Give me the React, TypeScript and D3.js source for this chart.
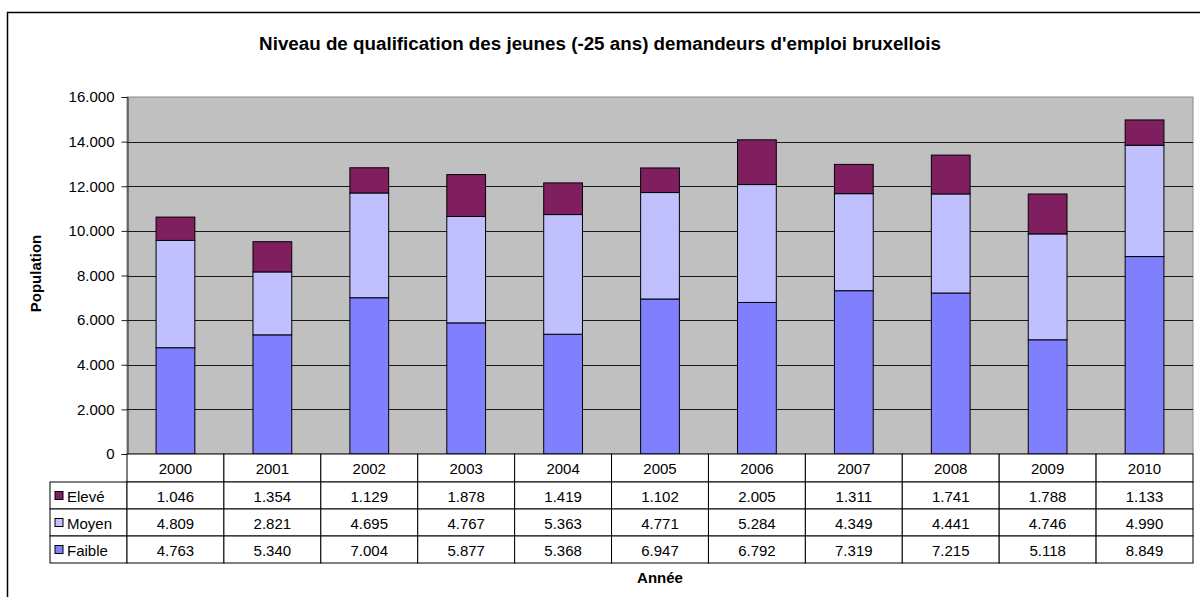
import * as d3 from "d3";
import { useEffect, useRef } from "react";

const years = ["2000", "2001", "2002", "2003", "2004", "2005", "2006", "2007", "2008", "2009", "2010"];
const faible = [4763, 5340, 7004, 5877, 5368, 6947, 6792, 7319, 7215, 5118, 8849];
const moyen = [4809, 2821, 4695, 4767, 5363, 4771, 5284, 4349, 4441, 4746, 4990];
const eleve = [1046, 1354, 1129, 1878, 1419, 1102, 2005, 1311, 1741, 1788, 1133];
const yTicks = [0, 2000, 4000, 6000, 8000, 10000, 12000, 14000, 16000];

const seriesNames = ["Faible", "Moyen", "Elevé"];
const seriesColors = ["#8080FF", "#C0C0FF", "#801F60"];

function App() {
  const ref = useRef<SVGSVGElement>(null);

  useEffect(() => {
    const W = 1200;
    const H = 597;
    const left = 127;
    const right = 1193;
    const top = 97;
    const bottom = 454;
    const rowH = 27;
    const font = "Arial, 'Liberation Sans', sans-serif";
    const fs = 15;

    const svg = d3.select(ref.current);
    svg.selectAll("*").remove();
    svg.attr("width", W).attr("height", H);

    const fmt = d3
      .formatLocale({ decimal: ",", thousands: ".", grouping: [3], currency: ["", "€"] })
      .format(",d");

    // outer frame
    svg
      .append("rect")
      .attr("x", 7.5)
      .attr("y", 12.5)
      .attr("width", 1200)
      .attr("height", 600)
      .attr("fill", "#fff")
      .attr("stroke", "#000")
      .attr("stroke-width", 1.5);

    // title
    svg
      .append("text")
      .attr("x", 600)
      .attr("y", 50)
      .attr("text-anchor", "middle")
      .attr("font-family", font)
      .attr("font-weight", "bold")
      .attr("font-size", 18.8)
      .text("Niveau de qualification des jeunes (-25 ans) demandeurs d'emploi bruxellois");

    const x = d3.scaleBand().domain(years).range([left, right]).padding(0);
    const y = d3.scaleLinear().domain([0, 16000]).range([bottom, top]);
    const barW = x.bandwidth() * 0.4;

    // plot background
    svg
      .append("rect")
      .attr("x", left)
      .attr("y", top)
      .attr("width", right - left)
      .attr("height", bottom - top)
      .attr("fill", "#C0C0C0")
      .attr("stroke", "#8a8a8a")
      .attr("stroke-width", 1);

    // grid lines
    svg
      .append("g")
      .selectAll("line")
      .data(yTicks.filter((t) => t > 0 && t < 16000))
      .join("line")
      .attr("x1", left)
      .attr("x2", right)
      .attr("y1", (d) => Math.round(y(d)) + 0.5)
      .attr("y2", (d) => Math.round(y(d)) + 0.5)
      .attr("stroke", "#1a1a1a")
      .attr("stroke-width", 1);

    // stacked bars
    const rows = years.map((yr, i) => ({ year: yr, Faible: faible[i], Moyen: moyen[i], "Elevé": eleve[i] }));
    const stack = d3.stack<any>().keys(seriesNames)(rows);

    stack.forEach((layer, si) => {
      svg
        .append("g")
        .selectAll("rect")
        .data(layer)
        .join("rect")
        .attr("x", (d) => x(d.data.year)! + (x.bandwidth() - barW) / 2)
        .attr("y", (d) => y(d[1]))
        .attr("width", barW)
        .attr("height", (d) => y(d[0]) - y(d[1]))
        .attr("fill", seriesColors[si])
        .attr("stroke", "#000")
        .attr("stroke-width", 1);
    });

    // y axis
    const yAxis = svg
      .append("g")
      .attr("transform", `translate(${left + 0.5},0)`)
      .call(
        d3
          .axisLeft(y)
          .tickValues(yTicks)
          .tickSize(6)
          .tickPadding(7)
          .tickFormat((d) => fmt(d as number))
      );
    yAxis.select(".domain").attr("stroke", "#222");
    yAxis.selectAll(".tick line").attr("stroke", "#222");
    yAxis
      .selectAll(".tick text")
      .attr("font-family", font)
      .attr("font-size", fs)
      .attr("fill", "#000");

    // y title
    svg
      .append("text")
      .attr("transform", `translate(41,${(top + bottom) / 2 - 2}) rotate(-90)`)
      .attr("text-anchor", "middle")
      .attr("font-family", font)
      .attr("font-weight", "bold")
      .attr("font-size", fs)
      .text("Population");

    // data table
    const table = svg.append("g");
    const legendLeft = 50;

    // header row (years)
    table
      .append("g")
      .selectAll("rect")
      .data(years)
      .join("rect")
      .attr("x", (d) => x(d)!)
      .attr("y", bottom)
      .attr("width", x.bandwidth())
      .attr("height", 28)
      .attr("fill", "#fff")
      .attr("stroke", "#000")
      .attr("stroke-width", 1);
    table
      .append("g")
      .selectAll("text")
      .data(years)
      .join("text")
      .attr("x", (d) => x(d)! + x.bandwidth() / 2)
      .attr("y", bottom + 20)
      .attr("text-anchor", "middle")
      .attr("font-family", font)
      .attr("font-size", fs)
      .text((d) => d);

    const tableRows = [
      { name: "Elevé", values: eleve, color: seriesColors[2] },
      { name: "Moyen", values: moyen, color: seriesColors[1] },
      { name: "Faible", values: faible, color: seriesColors[0] },
    ];
    const rowTop = bottom + 28;

    tableRows.forEach((r, ri) => {
      const ry = rowTop + ri * rowH;
      const g = table.append("g");
      g.append("rect")
        .attr("x", legendLeft)
        .attr("y", ry)
        .attr("width", left - legendLeft)
        .attr("height", rowH)
        .attr("fill", "#fff")
        .attr("stroke", "#000");
      g.append("rect")
        .attr("x", legendLeft + 5)
        .attr("y", ry + rowH / 2 - 4)
        .attr("width", 8)
        .attr("height", 8)
        .attr("fill", r.color)
        .attr("stroke", "#000");
      g.append("text")
        .attr("x", legendLeft + 17)
        .attr("y", ry + rowH / 2 + 6)
        .attr("font-family", font)
        .attr("font-size", fs)
        .text(r.name);
      g.append("g")
        .selectAll("rect")
        .data(years)
        .join("rect")
        .attr("x", (d) => x(d)!)
        .attr("y", ry)
        .attr("width", x.bandwidth())
        .attr("height", rowH)
        .attr("fill", "#fff")
        .attr("stroke", "#000");
      g.append("g")
        .selectAll("text")
        .data(r.values)
        .join("text")
        .attr("x", (_, i) => x(years[i])! + x.bandwidth() / 2)
        .attr("y", ry + rowH / 2 + 6)
        .attr("text-anchor", "middle")
        .attr("font-family", font)
        .attr("font-size", fs)
        .text((d) => fmt(d));
    });

    // x title
    svg
      .append("text")
      .attr("x", 660)
      .attr("y", 583)
      .attr("text-anchor", "middle")
      .attr("font-family", font)
      .attr("font-weight", "bold")
      .attr("font-size", fs)
      .text("Année");
  }, []);

  return (
    <div style={{ position: "absolute", left: 0, top: 0 }}>
      <svg ref={ref} style={{ display: "block" }} />
    </div>
  );
}

export default App;
